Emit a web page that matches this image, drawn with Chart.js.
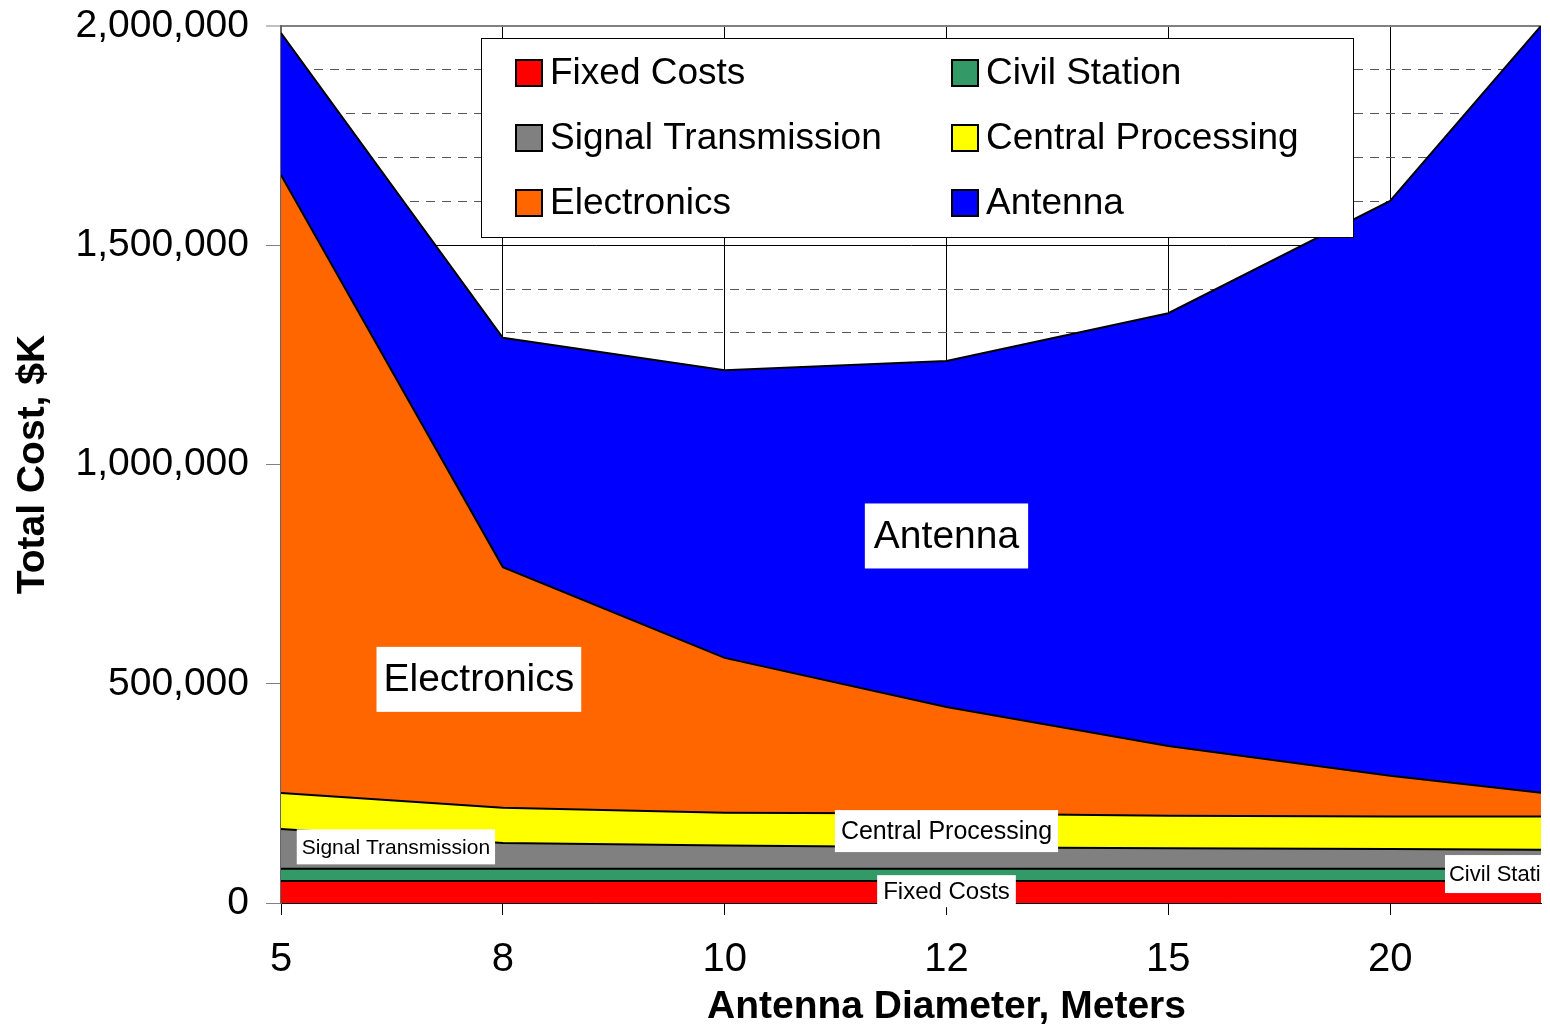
<!DOCTYPE html>
<html>
<head>
<meta charset="utf-8">
<script src="https://cdn.jsdelivr.net/npm/chart.js@4/dist/chart.umd.min.js"></script>
<style>
html,body{margin:0;padding:0;background:#fff;overflow:hidden}
#wrap{width:1550px;height:1031px;position:relative}
</style>
</head>
<body>
<div id="wrap"><canvas id="c" width="1550" height="1031"></canvas></div>
<script>
// ---- data (values in $K) ----
const diameters = ['5', '8', '10', '12', '15', '20', '25'];
const fixedCosts = [50000, 50000, 50000, 50000, 50000, 50000, 50000];
const civilStation = [28000, 28000, 28000, 28000, 28000, 28000, 28000];
const signalTransmission = [91000, 59000, 53000, 49000, 47000, 45000, 43000];
const centralProcessing = [82000, 80000, 75000, 77000, 74000, 74000, 76000];
const electronics = [1409000, 549000, 353000, 243000, 159000, 93000, 36000];
const antenna = [324000, 523000, 656000, 789000, 987000, 1311000, 1955000];
const seriesNames = ['Fixed Costs', 'Civil Station', 'Signal Transmission', 'Central Processing', 'Electronics', 'Antenna'];
const seriesColors = ['#FF0000', '#339966', '#808080', '#FFFF00', '#FF6600', '#0000FF'];
const yMax = 2000000;
const yStep = 100000;
const yMajor = 500000;
const xVisibleMax = 5.68; // the picture is cropped part way past the "20" category

// in-chart labels (data coordinates: x = category index, y = cost)
const areaLabels = [
  { text: 'Antenna', x: 3.0, y: 837000, size: 39, padX: 9, h: 65 },
  { text: 'Electronics', x: 0.892, y: 510000, size: 39, padX: 7, h: 65 },
  { text: 'Signal Transmission', x: 0.518, y: 128000, size: 21, padX: 5, h: 35 },
  { text: 'Central Processing', x: 3.0, y: 164000, size: 25, padX: 6, h: 42 },
  { text: 'Fixed Costs', x: 3.0, y: 27000, size: 24, padX: 6, h: 32 },
  { text: 'Civil Station', x: 5.527, y: 66000, size: 22, padX: 4, h: 38 }
];

const FONT = '"Liberation Sans", Arial, sans-serif';
const seriesValues = [fixedCosts, civilStation, signalTransmission, centralProcessing, electronics, antenna];

const datasets = seriesNames.map((name, i) => ({
  label: name,
  data: seriesValues[i].map((v, k) => ({ x: k, y: v })),
  backgroundColor: seriesColors[i],
  borderColor: '#000',
  borderWidth: 2,
  pointRadius: 0,
  pointHoverRadius: 0,
  tension: 0,
  fill: i === 0 ? 'origin' : '-1',
  clip: 0
}));

const legendBox = { x: 481, y: 38, w: 872, h: 199, colX: [35, 471], rowY: [35, 100, 165], sw: 26 };

const boxLegend = {
  id: 'boxLegend',
  afterDraw(chart) {
    const ctx = chart.ctx;
    const L = legendBox;
    ctx.save();
    ctx.fillStyle = '#fff';
    ctx.fillRect(L.x, L.y, L.w, L.h);
    ctx.strokeStyle = '#000';
    ctx.lineWidth = 1;
    ctx.strokeRect(L.x + 0.5, L.y + 0.5, L.w, L.h);
    chart.data.datasets.forEach((ds, i) => {
      const col = i % 2, row = Math.floor(i / 2);
      const sx = L.x + L.colX[col];
      const cy = L.y + L.rowY[row];
      ctx.fillStyle = ds.backgroundColor;
      ctx.fillRect(sx, cy - L.sw / 2, L.sw, L.sw);
      ctx.lineWidth = 2;
      ctx.strokeStyle = '#000';
      ctx.strokeRect(sx, cy - L.sw / 2, L.sw, L.sw);
      ctx.fillStyle = '#000';
      ctx.font = '37px ' + FONT;
      ctx.textBaseline = 'middle';
      ctx.textAlign = 'left';
      ctx.fillText(ds.label, sx + 34, cy + 1);
    });
    ctx.restore();
  }
};

const areaText = {
  id: 'areaText',
  afterDatasetsDraw(chart) {
    const ctx = chart.ctx;
    const ca = chart.chartArea;
    const xs = chart.scales.x, ys = chart.scales.y;
    ctx.save();
    ctx.beginPath();
    ctx.rect(0, 0, ca.right, chart.height);
    ctx.clip();
    areaLabels.forEach(a => {
      const px = xs.getPixelForValue(a.x);
      const py = ys.getPixelForValue(a.y);
      ctx.font = a.size + 'px ' + FONT;
      const w = ctx.measureText(a.text).width + 2 * a.padX;
      ctx.fillStyle = '#fff';
      ctx.fillRect(px - w / 2, py - a.h / 2, w, a.h);
      ctx.fillStyle = '#000';
      ctx.textAlign = 'center';
      ctx.textBaseline = 'middle';
      ctx.fillText(a.text, px, py + 1);
    });
    ctx.restore();
  }
};

const xTitle = {
  id: 'xTitle',
  afterDraw(chart) {
    const ctx = chart.ctx;
    const xs = chart.scales.x;
    const cx = (xs.getPixelForValue(0) + xs.getPixelForValue(diameters.length - 1)) / 2;
    ctx.save();
    ctx.font = 'bold 39px ' + FONT;
    ctx.fillStyle = '#000';
    ctx.textAlign = 'center';
    ctx.textBaseline = 'middle';
    ctx.fillText('Antenna Diameter, Meters', cx, 1007);
    ctx.restore();
  }
};

const isMajor = v => v % yMajor === 0;

new Chart(document.getElementById('c'), {
  type: 'line',
  data: { datasets },
  options: {
    responsive: false,
    animation: false,
    devicePixelRatio: 1,
    layout: { padding: { top: 26, right: 9, left: 0, bottom: 0 } },
    plugins: { legend: { display: false }, tooltip: { enabled: false } },
    scales: {
      x: {
        type: 'linear',
        min: 0,
        max: xVisibleMax,
        afterBuildTicks: s => { s.ticks = diameters.map((_, i) => ({ value: i })).filter(t => t.value <= s.max); },
        afterFit: s => { s.height = 128; s.paddingLeft = 0; s.paddingRight = 0; },
        ticks: {
          autoSkip: false,
          maxRotation: 0,
          padding: 21,
          color: '#000',
          font: { family: FONT, size: 40 },
          callback: v => diameters[v]
        },
        grid: { color: '#000', lineWidth: 1, tickLength: 12, tickColor: '#000', tickWidth: 1 },
        border: { display: true, color: '#000', width: 1 }
      },
      y: {
        type: 'linear',
        stacked: true,
        min: 0,
        max: yMax,
        afterFit: s => { s.width = 281; s.paddingTop = 0; s.paddingBottom = 0; },
        ticks: {
          stepSize: yStep,
          autoSkip: false,
          padding: 17,
          color: '#000',
          font: { family: FONT, size: 39 },
          callback: v => isMajor(v) ? v.toLocaleString('en-US') : ''
        },
        grid: {
          color: c => !c.tick ? '#000' : (c.tick.value === yMax ? '#808080' : (isMajor(c.tick.value) ? '#000' : '#555')),
          lineWidth: c => (c.tick && c.tick.value === yMax) ? 2 : 1,
          tickLength: 15,
          tickColor: c => (c.tick && isMajor(c.tick.value)) ? '#808080' : 'rgba(0,0,0,0)',
          tickWidth: 1
        },
        border: {
          display: true,
          color: '#666',
          width: 2,
          dash: c => (c.tick && !isMajor(c.tick.value)) ? [9, 7] : []
        },
        title: {
          display: true,
          text: 'Total Cost, $K',
          color: '#000',
          font: { family: FONT, size: 39, weight: 'bold' },
          padding: { top: 10, bottom: 0 }
        }
      }
    }
  },
  plugins: [areaText, boxLegend, xTitle]
});
</script>
</body>
</html>
